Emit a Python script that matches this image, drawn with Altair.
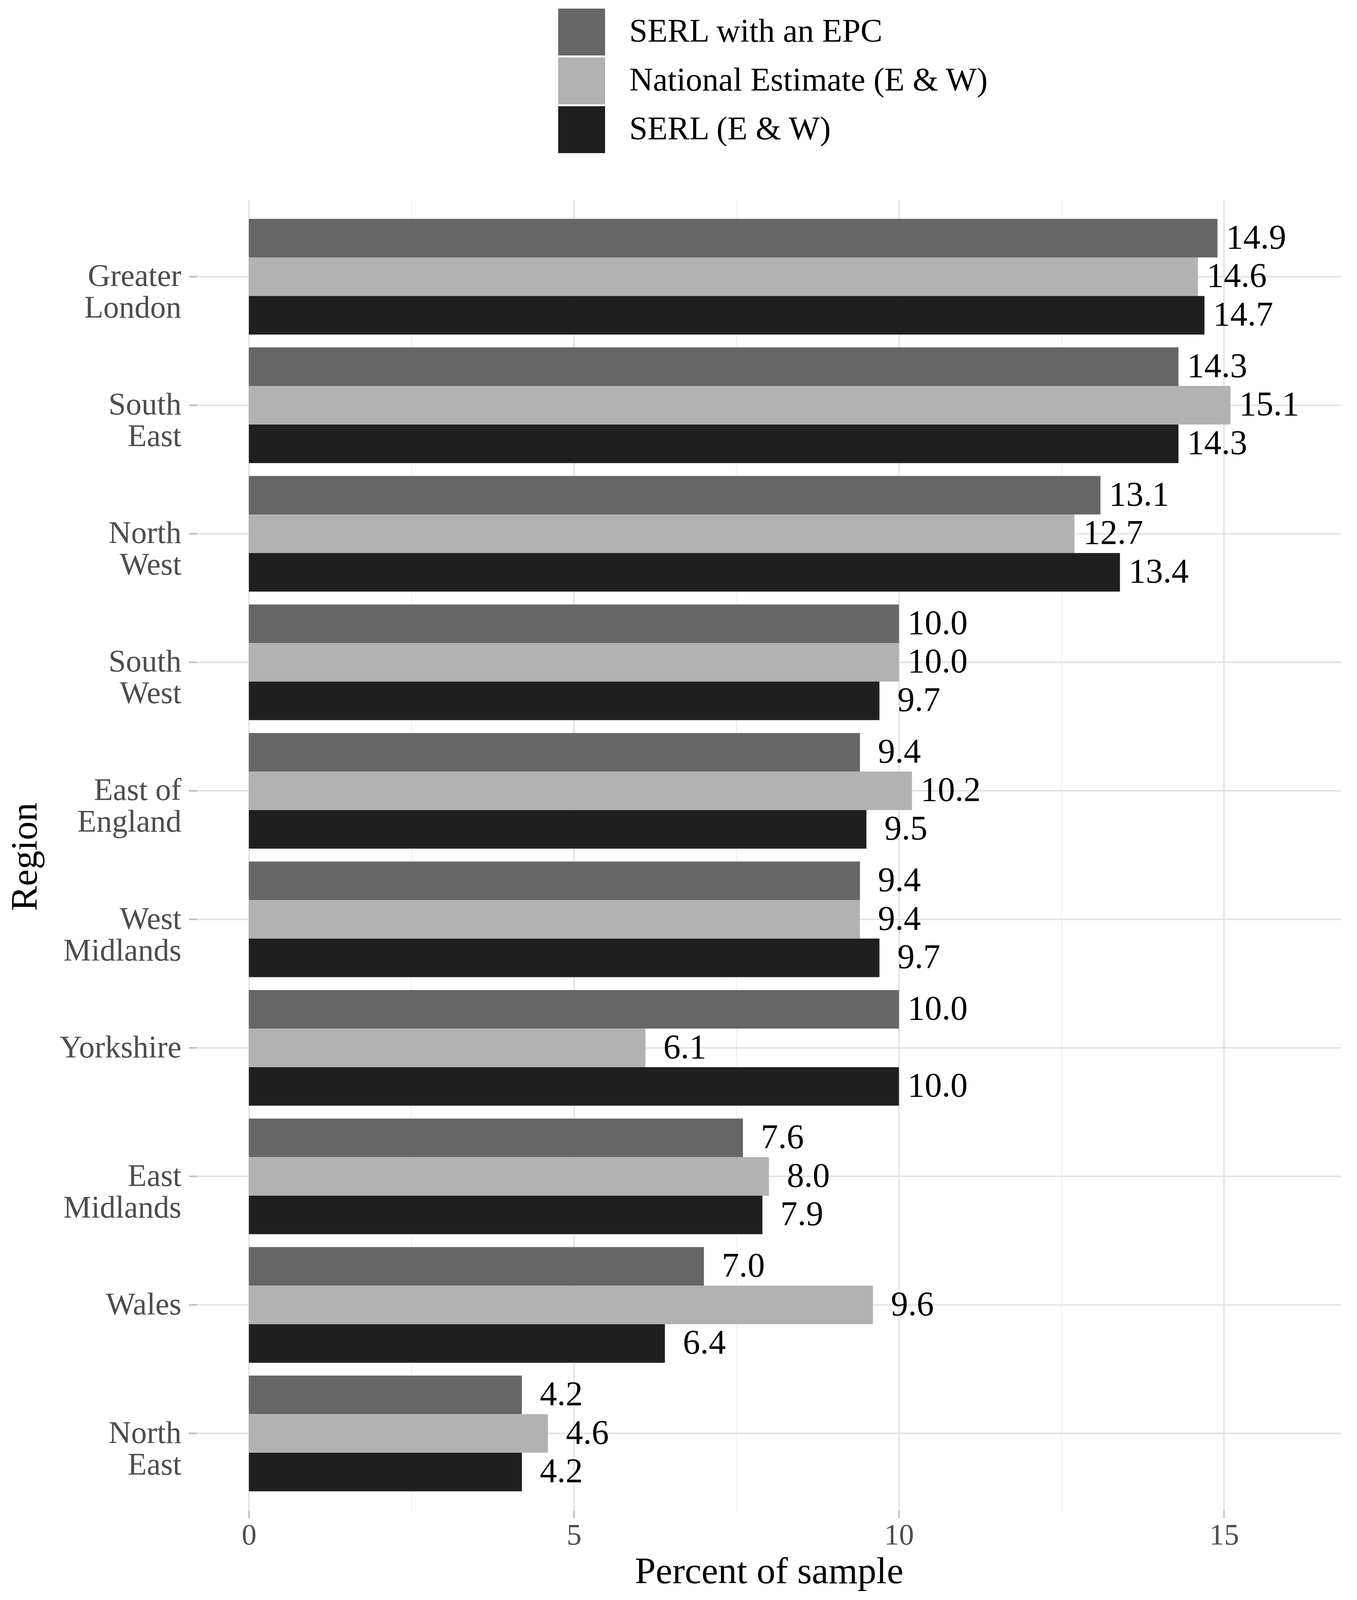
import altair as alt
import pandas as pd

regions = ["Greater London", "South East", "North West", "South West", "East of England",
           "West Midlands", "Yorkshire", "East Midlands", "Wales", "North East"]
series = ["SERL with an EPC", "National Estimate (E & W)", "SERL (E & W)"]
serl_epc = [14.9, 14.3, 13.1, 10.0, 9.4, 9.4, 10.0, 7.6, 7.0, 4.2]
national = [14.6, 15.1, 12.7, 10.0, 10.2, 9.4, 6.1, 8.0, 9.6, 4.6]
serl_ew = [14.7, 14.3, 13.4, 9.7, 9.5, 9.7, 10.0, 7.9, 6.4, 4.2]
colors = ["#666666", "#b2b2b2", "#1f1f1f"]
x_ticks = [0, 2.5, 5, 7.5, 10, 12.5, 15]

rows = []
for s, vals in zip(series, [serl_epc, national, serl_ew]):
    for r, v in zip(regions, vals):
        rows.append({"region": r, "series": s, "value": v})
df = pd.DataFrame(rows)

FONT = "Liberation Serif"

y_label_expr = (
    "indexof(datum.label, ' ') < 0 ? datum.label : "
    "[slice(datum.label, 0, lastindexof(datum.label, ' ')), "
    "slice(datum.label, lastindexof(datum.label, ' ') + 1)]"
)

y_enc = alt.Y(
    "region:N",
    sort=regions,
    scale=alt.Scale(paddingInner=0.1, paddingOuter=0.15),
    axis=alt.Axis(
        title="Region",
        titleFontSize=96,
        titleFontWeight="normal",
        titleColor="#000000",
        titleX=-440,
        titleY=1682,
        titleAngle=270,
        titleAlign="center",
        titleBaseline="middle",
        domain=False,
        ticks=True,
        tickSize=21,
        tickWidth=4,
        tickColor="#bdbdbd",
        grid=True,
        gridColor="#e3e3e3",
        gridWidth=4,
        labelFontSize=80,
        labelColor="#4d4d4d",
        labelPadding=19,
        labelLineHeight=81,
        labelAlign="right",
        labelBaseline="middle",
        labelLimit=2000,
        labelExpr=y_label_expr,
    ),
)

yoff_enc = alt.YOffset("series:N", sort=series, scale=alt.Scale(paddingInner=0, paddingOuter=0))

x_enc = alt.X(
    "value:Q",
    scale=alt.Scale(domain=[-0.8, 16.8], nice=False, zero=False),
    axis=alt.Axis(
        values=x_ticks,
        title="Percent of sample",
        titleFontSize=96,
        titleFontWeight="normal",
        titleColor="#000000",
        titleY=156,
        titleBaseline="middle",
        domain=False,
        ticks=True,
        tickSize=19,
        tickWidth=4,
        tickColor="#bdbdbd",
        tickOpacity={"condition": {"test": "datum.value % 5 === 0", "value": 1}, "value": 0},
        grid=True,
        gridColor={"condition": {"test": "datum.value % 5 === 0", "value": "#e3e3e3"}, "value": "#ececec"},
        gridWidth={"condition": {"test": "datum.value % 5 === 0", "value": 4}, "value": 2},
        labelExpr="datum.value % 5 === 0 ? format(datum.value, 'd') : ''",
        labelFontSize=76,
        labelColor="#4d4d4d",
        labelBaseline="top",
        labelPadding=7,
        labelOverlap=False,
        labelFlush=False,
    ),
)

color_enc = alt.Color(
    "series:N",
    sort=series,
    scale=alt.Scale(domain=series, range=colors),
    legend=alt.Legend(
        title=None,
        orient="none",
        legendX=925,
        legendY=-489,
        direction="vertical",
        symbolType="square",
        symbolSize=14400,
        symbolStrokeWidth=0,
        symbolOpacity=1,
        labelFontSize=84,
        labelColor="#000000",
        labelOffset=62,
        labelLimit=3000,
        rowPadding=5,
        padding=0,
    ),
)

base = alt.Chart(df)

bars = base.mark_bar(opacity=1).encode(
    y=y_enc,
    yOffset=yoff_enc,
    x=x_enc,
    x2=alt.datum(0),
    color=color_enc,
)

def value_labels(test, gap):
    return base.transform_filter(test).transform_calculate(
        label="format(datum.value, '.1f')"
    ).mark_text(
        align="left", baseline="middle", dx=gap, fontSize=88, color="#000000"
    ).encode(
        y=alt.Y("region:N", sort=regions),
        yOffset=alt.YOffset("series:N", sort=series),
        x=alt.X("value:Q"),
        text="label:N",
    )

labels_big = value_labels("datum.value >= 10", 22)
labels_small = value_labels("datum.value < 10", 46)

chart = (
    alt.layer(bars, labels_big, labels_small)
    .properties(
        width=2929,
        height=3356,
        autosize=alt.AutoSizeParams(type="none"),
        padding={"left": 496, "top": 503, "right": 33, "bottom": 221},
    )
    .configure(font=FONT)
    .configure_view(strokeWidth=0)
)

chart.save("out.html", embed_options={"renderer": "svg", "actions": False})
